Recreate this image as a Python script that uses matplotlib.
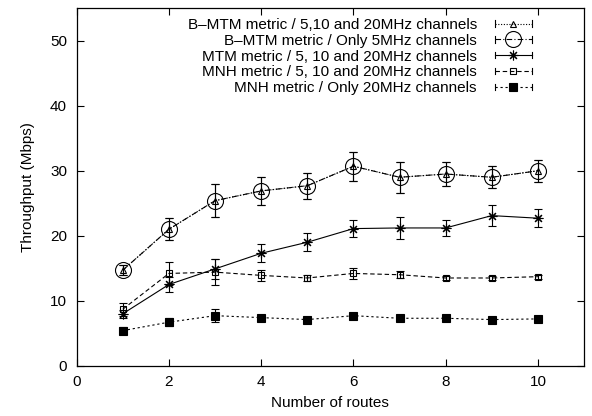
import matplotlib
matplotlib.use('Agg')
import matplotlib.pyplot as plt
from matplotlib.lines import Line2D
from matplotlib.legend_handler import HandlerLine2D

plt.rcParams['font.family'] = ['Liberation Sans', 'DejaVu Sans']
plt.rcParams['font.size'] = 11

# ── data ─────────────────────────────────────────────────────────────────────
routes = [1, 2, 3, 4, 5, 6, 7, 8, 9, 10]

bmtm_all = [14.7, 21.0, 25.4, 26.9, 27.7, 30.7, 29.0, 29.5, 29.0, 30.0]
bmtm_all_err = [0.8, 1.7, 2.5, 2.2, 2.0, 2.2, 2.4, 1.9, 1.7, 1.7]
bmtm_5 = [14.7, 21.0, 25.4, 26.9, 27.7, 30.7, 29.0, 29.5, 29.0, 30.0]
bmtm_5_err = [0.8, 1.7, 2.5, 2.2, 2.0, 2.2, 2.4, 1.9, 1.7, 1.7]
mtm_all = [8.0, 12.5, 14.9, 17.3, 19.0, 21.1, 21.2, 21.2, 23.1, 22.7]
mtm_all_err = [0.6, 1.2, 1.5, 1.4, 1.4, 1.3, 1.75, 1.3, 1.6, 1.4]
mnh_all = [8.7, 14.2, 14.4, 13.9, 13.5, 14.2, 14.0, 13.5, 13.5, 13.7]
mnh_all_err = [1.0, 1.8, 2.0, 0.9, 0.5, 0.8, 0.5, 0.3, 0.3, 0.3]
mnh_20 = [5.4, 6.7, 7.7, 7.4, 7.1, 7.7, 7.3, 7.3, 7.1, 7.2]
mnh_20_err = [0.5, 0.6, 1.0, 0.3, 0.3, 0.3, 0.3, 0.3, 0.3, 0.3]

labels = [
    'B\u2013MTM metric / 5,10 and 20MHz channels',
    'B\u2013MTM metric / Only 5MHz channels',
    'MTM metric / 5, 10 and 20MHz channels',
    'MNH metric / 5, 10 and 20MHz channels',
    'MNH metric / Only 20MHz channels',
]


# legend sample drawn gnuplot-style: line with small end caps
class CappedLine(HandlerLine2D):
    def create_artists(self, legend, orig_handle, xdescent, ydescent,
                       width, height, fontsize, trans):
        arts = super().create_artists(legend, orig_handle, xdescent, ydescent,
                                      width, height, fontsize, trans)
        y = height / 2 - ydescent
        cap = height * 0.3
        for xx in (-xdescent, width - xdescent):
            arts.append(Line2D([xx, xx], [y - cap, y + cap], color='black',
                               lw=0.8, transform=trans))
        return arts


fig = plt.figure(figsize=(5.92, 4.16), dpi=100)
ax = fig.add_axes([0.1296, 0.1209, 0.8569, 0.8591])

styles = [
    (bmtm_all, bmtm_all_err, dict(ls=(0, (1, 1.5)), marker='^', ms=5, mfc='none')),
    (bmtm_5, bmtm_5_err, dict(ls=(0, (5, 2, 1, 2)), marker='o', ms=11.5, mfc='none')),
    (mtm_all, mtm_all_err, dict(ls='-', marker=(8, 2, 0), ms=7)),
    (mnh_all, mnh_all_err, dict(ls=(0, (4, 2.5)), marker='s', ms=5, mfc='none')),
    (mnh_20, mnh_20_err, dict(ls=(0, (2, 2.5)), marker='s', ms=5.5, mfc='black')),
]

handles = []
for (vals, errs, st), lab in zip(styles, labels):
    cont = ax.errorbar(routes, vals, yerr=errs, color='black', lw=0.8,
                       elinewidth=0.8, capsize=3, capthick=0.8, mec='black',
                       mew=0.8, label=lab, **st)
    handles.append(cont.lines[0])

ax.set_xlim(0, 11)
ax.set_ylim(0, 55)
ax.set_xticks(range(0, 11, 2))
ax.set_yticks(range(0, 51, 10))
ax.tick_params(direction='in', length=5, width=0.8, top=True, right=True, pad=7)
for s in ax.spines.values():
    s.set_linewidth(0.9)

ax.set_xlabel('Number of routes', labelpad=5)
ax.set_ylabel('Throughput (Mbps)', labelpad=11)

ax.legend(handles, labels, loc='upper right', bbox_to_anchor=(0.897, 0.973),
          frameon=False, markerfirst=False, numpoints=1, borderpad=0,
          borderaxespad=0, labelspacing=0.12, handlelength=2.4,
          handletextpad=1.2, handler_map={Line2D: CappedLine()})

fig.savefig('out.png', dpi=100)
